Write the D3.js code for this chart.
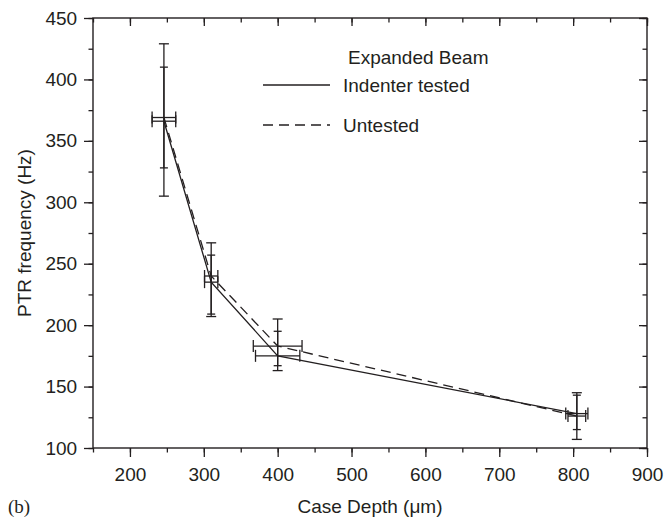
<!DOCTYPE html>
<html>
<head>
<meta charset="utf-8">
<script src="https://cdn.jsdelivr.net/npm/d3@7"></script>
<style>
  html, body { margin: 0; padding: 0; background: #fff; }
  svg { display: block; }
  text { font-family: "Liberation Sans", Arial, Helvetica, sans-serif; fill: #231f20; }
</style>
</head>
<body>
<svg id="chart" width="667" height="522"></svg>
<script>
// Case depth (µm) of each specimen group
const depth = [246, 310, 400, 805];

// Indenter tested: mean PTR frequency and spread
const testedHz   = [366, 235, 175, 128];
const testedLow  = [305, 207, 163, 107];
const testedHigh = [429, 267, 205, 145];
const testedXErr = [16, 9, 30, 15];

// Untested: mean PTR frequency and spread
const untestedHz   = [369, 240, 183, 126];
const untestedLow  = [328, 209, 167, 115];
const untestedHigh = [410, 257, 195, 143];
const untestedXErr = [16, 9, 33, 12];

const xTicks = [200, 300, 400, 500, 600, 700, 800, 900];
const yTicks = [100, 150, 200, 250, 300, 350, 400, 450];

const svg = d3.select("#chart");
const ink = "#231f20";

const x = d3.scaleLinear().domain([150, 900]).range([93, 647]);
const y = d3.scaleLinear().domain([100, 450]).range([448, 18]);

const xMinor = d3.range(150, 901, 50);
const yMinor = d3.range(100, 451, 25);

// Frame
svg.append("rect")
  .attr("x", x(150)).attr("y", y(450))
  .attr("width", x(900) - x(150)).attr("height", y(100) - y(450))
  .attr("fill", "none").attr("stroke", ink).attr("stroke-width", 1.4);

// Axes with outward ticks on bottom/left, inward mirror ticks on top/right
function axisPair(gen, scale, minor, major, transform, outward) {
  const g = svg.append("g").attr("transform", transform);
  g.call(gen(scale).tickValues(minor).tickSize(outward ? 4.5 : -4.5).tickFormat(""));
  g.select(".domain").remove();
  const g2 = svg.append("g").attr("transform", transform);
  g2.call(gen(scale).tickValues(major).tickSize(outward ? 9 : -8).tickPadding(outward ? 5 : 0)
    .tickFormat(outward ? d3.format("d") : ""));
  g2.select(".domain").remove();
  [g, g2].forEach(s => s.selectAll("line").attr("stroke", ink).attr("stroke-width", 1.3));
  return g2;
}

const gx = axisPair(d3.axisBottom, x, xMinor, xTicks, `translate(0,${y(100)})`, true);
gx.selectAll("text").attr("font-size", 19).attr("fill", ink).attr("dy", "1.0em");
axisPair(d3.axisTop, x, xMinor, xTicks, `translate(0,${y(450)})`, false);

const gy = axisPair(d3.axisLeft, y, yMinor, yTicks, `translate(${x(150)},0)`, true);
gy.selectAll("text").attr("font-size", 19).attr("fill", ink).attr("dx", "-0.1em");
axisPair(d3.axisRight, y, yMinor, yTicks, `translate(${x(900)},0)`, false);
svg.selectAll(".tick text").attr("font-family", "'Liberation Sans', Arial, sans-serif");

// Axis titles
svg.append("text")
  .attr("x", (x(150) + x(900)) / 2).attr("y", 513)
  .attr("text-anchor", "middle").attr("font-size", 19)
  .text("Case Depth (\u03bcm)");

svg.append("text")
  .attr("transform", `translate(31,${(y(100) + y(450)) / 2}) rotate(-90)`)
  .attr("text-anchor", "middle").attr("font-size", 19)
  .text("PTR frequency (Hz)");

svg.append("text")
  .attr("x", 8).attr("y", 513)
  .attr("font-size", 19)
  .style("font-family", "'Liberation Serif', 'Times New Roman', serif")
  .text("(b)");

// Series
const series = [
  { name: "Indenter tested", hz: testedHz, low: testedLow, high: testedHigh, xerr: testedXErr, dash: null, cap: 5 },
  { name: "Untested", hz: untestedHz, low: untestedLow, high: untestedHigh, xerr: untestedXErr, dash: "10,6", cap: 4 }
];

const line = d3.line().x(d => x(d[0])).y(d => y(d[1]));

series.forEach(s => {
  const pts = depth.map((d, i) => [d, s.hz[i]]);
  svg.append("path")
    .attr("d", line(pts))
    .attr("fill", "none").attr("stroke", ink).attr("stroke-width", 1.3)
    .attr("stroke-dasharray", s.dash);

  const eb = svg.append("g").attr("stroke", ink).attr("stroke-width", 1.3).attr("fill", "none");
  depth.forEach((d, i) => {
    const cx = x(d), cy = y(s.hz[i]);
    // vertical spread
    eb.append("line").attr("x1", cx).attr("x2", cx).attr("y1", y(s.low[i])).attr("y2", y(s.high[i]));
    [s.low[i], s.high[i]].forEach(v => {
      eb.append("line").attr("x1", cx - s.cap).attr("x2", cx + s.cap).attr("y1", y(v)).attr("y2", y(v));
    });
    // horizontal spread
    const xl = x(d - s.xerr[i]), xr = x(d + s.xerr[i]);
    eb.append("line").attr("x1", xl).attr("x2", xr).attr("y1", cy).attr("y2", cy);
    [xl, xr].forEach(px => {
      eb.append("line").attr("x1", px).attr("x2", px).attr("y1", cy - 6).attr("y2", cy + 6);
    });
  });
});

// Legend
const legend = svg.append("g");
legend.append("text").attr("x", 348).attr("y", 64).attr("font-size", 19).text("Expanded Beam");
series.forEach((s, i) => {
  const ly = 85 + i * 40;
  legend.append("line")
    .attr("x1", 263).attr("x2", 330).attr("y1", ly).attr("y2", ly)
    .attr("stroke", ink).attr("stroke-width", 1.3)
    .attr("stroke-dasharray", s.dash);
  legend.append("text").attr("x", 343).attr("y", ly + 7).attr("font-size", 19).text(s.name);
});
</script>
</body>
</html>
